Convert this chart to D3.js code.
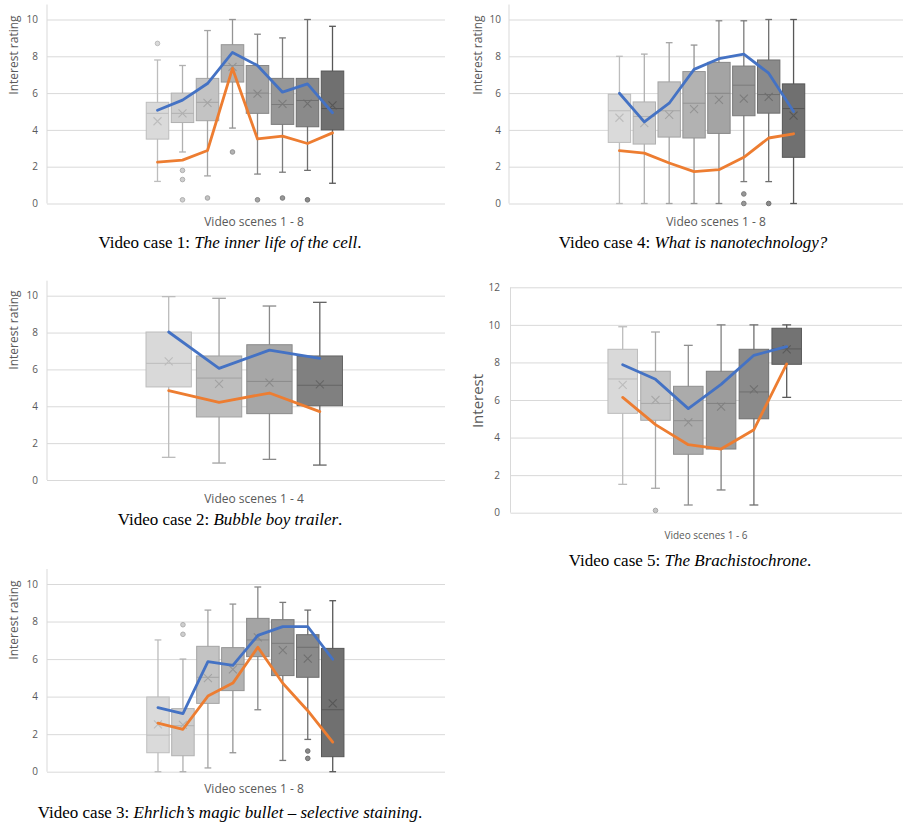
<!DOCTYPE html>
<html><head><meta charset="utf-8">
<script src="https://cdn.jsdelivr.net/npm/d3@7"></script>
<style>body{margin:0;background:#fff} svg{display:block}</style>
</head><body>
<svg id="c" width="904" height="824"></svg>
<script>
// ---------------- DATA ----------------
// box stats: lo/hi = whisker ends, q1/med/q3, mean (x marker), out = outliers
const case1Boxes = [
  {lo:1.2, q1:3.5, med:4.9, q3:5.5, hi:7.8, mean:4.47, out:[8.7]},
  {lo:2.8, q1:4.4, med:4.9, q3:6.0, hi:7.5, mean:4.9, out:[1.8,1.3,0.2]},
  {lo:1.5, q1:4.5, med:5.5, q3:6.8, hi:9.4, mean:5.47, out:[0.3]},
  {lo:4.1, q1:6.6, med:7.5, q3:8.63, hi:10, mean:7.43, out:[2.8]},
  {lo:1.6, q1:4.9, med:6.0, q3:7.5, hi:9.2, mean:5.97, out:[0.2]},
  {lo:1.7, q1:4.3, med:5.38, q3:6.8, hi:9.0, mean:5.42, out:[0.3]},
  {lo:1.8, q1:4.17, med:5.6, q3:6.8, hi:10, mean:5.43, out:[0.2]},
  {lo:1.1, q1:4.0, med:5.16, q3:7.2, hi:9.63, mean:5.33, out:[]}
];
const case1Blue = [5.07,5.62,6.52,8.21,7.5,6.05,6.5,4.93];
const case1Orange = [2.25,2.36,2.88,7.34,3.51,3.66,3.26,3.84];

const case4Boxes = [
  {lo:0, q1:3.32, med:5.04, q3:5.94, hi:8.0, mean:4.66, out:[]},
  {lo:0, q1:3.23, med:4.73, q3:5.52, hi:8.12, mean:4.37, out:[]},
  {lo:0, q1:3.61, med:5.04, q3:6.61, hi:8.74, mean:4.82, out:[]},
  {lo:0, q1:3.56, med:5.45, q3:7.17, hi:8.61, mean:5.13, out:[]},
  {lo:0, q1:3.81, med:5.99, q3:7.67, hi:9.93, mean:5.63, out:[]},
  {lo:1.19, q1:4.77, med:6.43, q3:7.47, hi:9.93, mean:5.7, out:[0.52,0]},
  {lo:1.19, q1:4.91, med:5.92, q3:7.8, hi:10, mean:5.79, out:[0]},
  {lo:0, q1:2.51, med:5.16, q3:6.5, hi:10, mean:4.77, out:[]}
];
const case4Blue = [5.99,4.44,5.45,7.29,7.87,8.12,7.08,5.0];
const case4Orange = [2.87,2.74,2.2,1.73,1.84,2.51,3.56,3.79];

const case2Boxes = [
  {lo:1.23, q1:5.05, med:6.33, q3:8.03, hi:9.95, mean:6.44, out:[]},
  {lo:0.92, q1:3.42, med:5.53, q3:6.73, hi:9.86, mean:5.21, out:[]},
  {lo:1.12, q1:3.6, med:5.35, q3:7.34, hi:9.44, mean:5.28, out:[]},
  {lo:0.81, q1:4.03, med:5.14, q3:6.73, hi:9.64, mean:5.19, out:[]}
];
const case2Blue = [8.03,6.06,7.05,6.6];
const case2Orange = [4.85,4.21,4.72,3.71];

const case5Boxes = [
  {lo:1.51, q1:5.29, med:7.12, q3:8.7, hi:9.9, mean:6.8, out:[]},
  {lo:1.3, q1:4.92, med:5.82, q3:7.53, hi:9.62, mean:6.0, out:[0.12]},
  {lo:0.41, q1:3.11, med:4.9, q3:6.73, hi:8.91, mean:4.81, out:[]},
  {lo:1.21, q1:3.39, med:5.82, q3:7.53, hi:10.0, mean:5.65, out:[]},
  {lo:0.41, q1:5.0, med:6.43, q3:8.7, hi:10.0, mean:6.57, out:[]},
  {lo:6.14, q1:7.9, med:8.72, q3:9.82, hi:10.0, mean:8.7, out:[]}
];
const case5Blue = [7.88,7.1,5.54,6.83,8.38,8.84];
const case5Orange = [6.14,4.69,3.62,3.39,4.42,7.92];

const case3Boxes = [
  {lo:0, q1:1.01, med:1.95, q3:3.98, hi:7.02, mean:2.52, out:[]},
  {lo:0, q1:0.85, med:2.45, q3:3.36, hi:6.0, mean:2.49, out:[7.83,7.32]},
  {lo:0.2, q1:3.64, med:5.03, q3:6.68, hi:8.61, mean:4.99, out:[]},
  {lo:1.01, q1:4.32, med:5.72, q3:6.61, hi:8.93, mean:5.45, out:[]},
  {lo:3.3, q1:6.13, med:7.02, q3:8.17, hi:9.84, mean:7.16, out:[]},
  {lo:0.6, q1:5.12, med:6.84, q3:8.1, hi:9.02, mean:6.48, out:[]},
  {lo:1.72, q1:5.03, med:6.63, q3:7.3, hi:8.61, mean:6.02, out:[1.1,0.71]},
  {lo:0, q1:0.8, med:3.3, q3:6.57, hi:9.11, mean:3.64, out:[]}
];
const case3Blue = [3.41,3.09,5.86,5.67,7.26,7.73,7.73,5.99];
const case3Orange = [2.59,2.26,4.03,4.72,6.63,4.71,3.25,1.58];

const ticks10 = [0,2,4,6,8,10];
const ticks12 = [0,2,4,6,8,10,12];

const titles = {
  c1: ["Video case 1: ", "The inner life of the cell", "."],
  c2: ["Video case 2: ", "Bubble boy trailer", "."],
  c3: ["Video case 3: ", "Ehrlich\u2019s magic bullet \u2013 selective staining", "."],
  c4: ["Video case 4: ", "What is nanotechnology?", ""],
  c5: ["Video case 5: ", "The Brachistochrone", "."]
};

// ---------------- STYLE ----------------
const pal8 = {fill:["#dadada","#cecece","#c3c3c3","#b2b2b2","#a4a4a4","#979797","#8a8a8a","#707070"],
              stroke:["#bdbdbd","#b0b0b0","#a4a4a4","#949494","#878787","#7b7b7b","#6e6e6e","#575757"]};
const pal4 = {fill:["#d9d9d9","#bebebe","#a6a6a6","#808080"],
              stroke:["#bcbcbc","#a2a2a2","#8a8a8a","#656565"]};
const pal6 = {fill:["#d9d9d9","#c5c5c5","#ababab","#9c9c9c","#8a8a8a","#737373"],
              stroke:["#bcbcbc","#a8a8a8","#8f8f8f","#808080","#6f6f6f","#5a5a5a"]};
const BLUE = "#4472c4", ORANGE = "#ed7d31", GRID = "#d9d9d9", TXT = "#595959";
const SANS = "'Open Sans', sans-serif", SERIF = "'Liberation Serif', 'Times New Roman', serif";

const panels = [
  {boxes:case1Boxes, blue:case1Blue, orange:case1Orange, ticks:ticks10, pal:pal8,
   left:47, right:445, y0:203.5, yT:19.5, band:[145,345], tickX:38,
   yTitle:"Interest rating", yTitleX:13, yTitleY:55, yTitleSize:12,
   xTitle:"Video scenes 1 - 8", xTitleX:254, xTitleY:226, xTitleSize:12,
   cap:titles.c1, capX:230, capY:248},
  {boxes:case4Boxes, blue:case4Blue, orange:case4Orange, ticks:ticks10, pal:pal8,
   left:509, right:903, y0:203.5, yT:19.5, band:[607,806], tickX:501,
   yTitle:"Interest rating", yTitleX:477, yTitleY:55, yTitleSize:12,
   xTitle:"Video scenes 1 - 8", xTitleX:716, xTitleY:226, xTitleSize:12,
   cap:titles.c4, capX:693, capY:248},
  {boxes:case2Boxes, blue:case2Blue, orange:case2Orange, ticks:ticks10, pal:pal4,
   left:47, right:445, y0:480, yT:295.7, band:[143.5,345], tickX:38,
   yTitle:"Interest rating", yTitleX:13, yTitleY:330, yTitleSize:12,
   xTitle:"Video scenes 1 - 4", xTitleX:254, xTitleY:503, xTitleSize:12,
   cap:titles.c2, capX:230, capY:525},
  {boxes:case5Boxes, blue:case5Blue, orange:case5Orange, ticks:ticks12, pal:pal6,
   left:510.5, right:902, y0:512.7, yT:287.3, band:[606.3,803.1], tickX:500,
   yTitle:"Interest", yTitleX:476.5, yTitleY:401, yTitleSize:15,
   xTitle:"Video scenes 1 - 6", xTitleX:706, xTitleY:539, xTitleSize:10,
   cap:titles.c5, capX:690, capY:566},
  {boxes:case3Boxes, blue:case3Blue, orange:case3Orange, ticks:ticks10, pal:pal8,
   left:47, right:445, y0:771.7, yT:584, band:[145.5,345.2], tickX:38,
   yTitle:"Interest rating", yTitleX:13, yTitleY:620, yTitleSize:12,
   xTitle:"Video scenes 1 - 8", xTitleX:254, xTitleY:793, xTitleSize:12,
   cap:titles.c3, capX:230, capY:818}
];

const svg = d3.select("#c");

panels.forEach(p => {
  const g = svg.append("g");
  const maxT = d3.max(p.ticks);
  const y = d3.scaleLinear().domain([0, maxT]).range([p.y0, p.yT]);
  const x = d3.scaleBand().domain(d3.range(p.boxes.length)).range(p.band).paddingInner(0.1).paddingOuter(0.05);
  const bw = x.bandwidth();
  const cx = i => x(i) + bw / 2;

  // gridlines + ticks via axis
  const axis = d3.axisLeft(y).tickValues(p.ticks).tickSize(-(p.right - p.left)).tickPadding(p.left - p.tickX);
  const ag = g.append("g").attr("transform", `translate(${p.left},0)`).call(axis);
  ag.select(".domain").remove();
  ag.selectAll(".tick line").attr("stroke", GRID).attr("stroke-width", 1);
  ag.selectAll(".tick text").attr("fill", TXT).style("font-family", SANS).style("font-size", "10px");
  // vertical axis line
  const topV = maxT === 12 ? y(12) : y(10) - 15;
  g.append("line").attr("x1", p.left).attr("x2", p.left).attr("y1", topV).attr("y2", p.y0)
    .attr("stroke", GRID).attr("stroke-width", 1);

  // boxes
  p.boxes.forEach((b, i) => {
    const f = p.pal.fill[i], s = p.pal.stroke[i];
    const c = cx(i), cap = bw * 0.3;
    const bg = g.append("g");
    bg.append("line").attr("x1", c).attr("x2", c).attr("y1", y(b.lo)).attr("y2", y(b.hi))
      .attr("stroke", s).attr("stroke-width", 1.3);
    [b.lo, b.hi].forEach(v => bg.append("line").attr("x1", c - cap/2).attr("x2", c + cap/2)
      .attr("y1", y(v)).attr("y2", y(v)).attr("stroke", s).attr("stroke-width", 1.3));
    bg.append("rect").attr("x", x(i)).attr("width", bw).attr("y", y(b.q3)).attr("height", y(b.q1) - y(b.q3))
      .attr("fill", f).attr("stroke", s).attr("stroke-width", 1);
    bg.append("line").attr("x1", x(i)).attr("x2", x(i) + bw).attr("y1", y(b.med)).attr("y2", y(b.med))
      .attr("stroke", s).attr("stroke-width", 1);
    const m = 4, my = y(b.mean);
    bg.append("path").attr("d", `M${c-m},${my-m}L${c+m},${my+m}M${c-m},${my+m}L${c+m},${my-m}`)
      .attr("stroke", s).attr("stroke-width", 1.1).attr("fill", "none");
    b.out.forEach(v => bg.append("circle").attr("cx", c).attr("cy", y(v)).attr("r", 2.3)
      .attr("fill", f).attr("stroke", s).attr("stroke-width", 1));
  });

  // lines
  const line = d3.line().x((d, i) => cx(i)).y(d => y(d));
  g.append("path").datum(p.orange).attr("d", line).attr("fill", "none").attr("stroke", ORANGE)
    .attr("stroke-width", 2.8).attr("stroke-linejoin", "round").attr("stroke-linecap", "round");
  g.append("path").datum(p.blue).attr("d", line).attr("fill", "none").attr("stroke", BLUE)
    .attr("stroke-width", 2.8).attr("stroke-linejoin", "round").attr("stroke-linecap", "round");

  // titles
  g.append("text").attr("transform", `translate(${p.yTitleX},${p.yTitleY}) rotate(-90)`)
    .attr("text-anchor", "middle").attr("dominant-baseline", "central")
    .attr("fill", TXT).style("font-family", SANS).style("font-size", p.yTitleSize + "px").text(p.yTitle);
  g.append("text").attr("x", p.xTitleX).attr("y", p.xTitleY).attr("text-anchor", "middle")
    .attr("fill", TXT).style("font-family", SANS).style("font-size", p.xTitleSize + "px").text(p.xTitle);
  const ct = g.append("text").attr("x", p.capX).attr("y", p.capY).attr("text-anchor", "middle")
    .attr("fill", "#000").style("font-family", SERIF).style("font-size", "17px");
  ct.append("tspan").text(p.cap[0]);
  ct.append("tspan").style("font-style", "italic").text(p.cap[1]);
  if (p.cap[2]) ct.append("tspan").text(p.cap[2]);
});
</script>
</body></html>
